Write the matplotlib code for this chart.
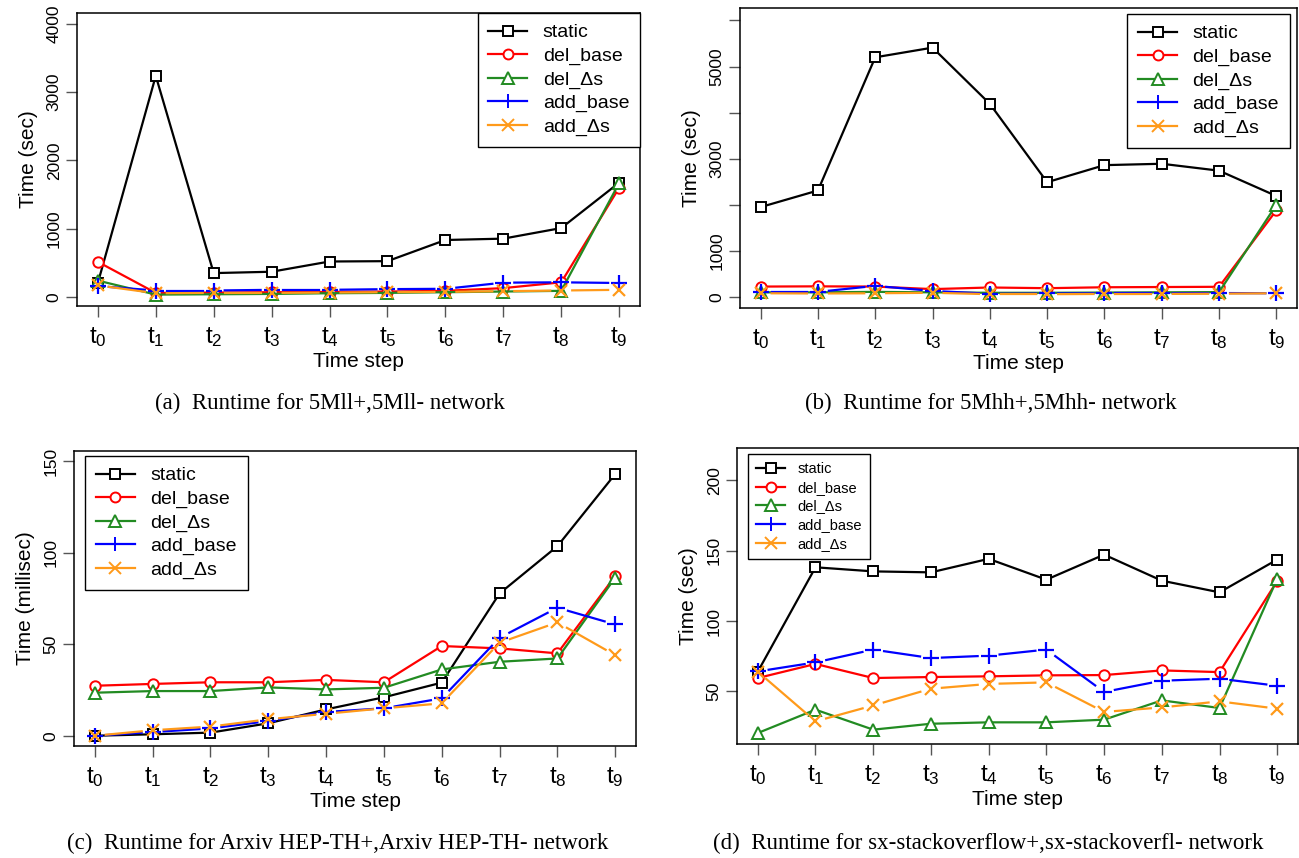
import numpy as np
import matplotlib
matplotlib.use("Agg")
import matplotlib.pyplot as plt
from matplotlib.lines import Line2D

plt.rcParams["font.family"] = ["Liberation Sans", "DejaVu Sans"]
plt.rcParams["mathtext.fontset"] = "custom"
plt.rcParams["mathtext.rm"] = "Liberation Sans"

steps = list(range(10))
step_labels = [r"$\mathregular{t_%d}$" % i for i in steps]
series_names = ["static", "del_base", "del_\u0394s", "add_base", "add_\u0394s"]

# (a) 5Mll+,5Mll- network, seconds
static_a   = [205, 3240, 350, 370, 520, 525, 835, 855, 1010, 1675]
del_base_a = [515, 60, 65, 70, 75, 80, 90, 130, 215, 1600]
del_ds_a   = [240, 35, 40, 45, 55, 60, 70, 80, 90, 1670]
add_base_a = [160, 95, 95, 105, 105, 115, 120, 210, 215, 205]
add_ds_a   = [170, 55, 60, 60, 65, 70, 75, 85, 95, 105]

# (b) 5Mhh+,5Mhh- network, seconds
static_b   = [1950, 2310, 5200, 5410, 4190, 2490, 2860, 2890, 2740, 2190]
del_base_b = [225, 230, 225, 170, 205, 190, 210, 215, 220, 1880]
del_ds_b   = [100, 100, 110, 100, 90, 90, 95, 100, 105, 2000]
add_base_b = [110, 110, 240, 130, 70, 75, 80, 80, 85, 80]
add_ds_b   = [80, 75, 80, 90, 60, 60, 65, 65, 70, 80]

# (c) Arxiv HEP-TH network, milliseconds
static_c   = [0, 0.8, 1.7, 6.8, 14.4, 21, 29, 77.7, 103.5, 142.9]
del_base_c = [27.3, 28.3, 29.2, 29.2, 30.5, 29.2, 49, 47.7, 45, 87.2]
del_ds_c   = [23.5, 24.4, 24.4, 26.4, 25.3, 26.2, 36.2, 40.4, 42.2, 86.3]
add_base_c = [0, 2, 4, 8, 13, 15, 20.4, 53.5, 69.9, 60.8]
add_ds_c   = [0, 3, 5, 9, 12, 15, 17.7, 50.8, 61.9, 44]

# (d) sx-stackoverflow network, seconds
static_d   = [64, 138.2, 135.3, 134.6, 144.2, 129.4, 147.2, 128.7, 120.4, 143.7]
del_base_d = [59.5, 69.5, 59.5, 60.2, 60.7, 61.4, 61.6, 64.9, 63.7, 128.5]
del_ds_d   = [20.4, 37, 22.8, 27, 28, 28, 29.9, 43.6, 38.2, 130]
add_base_d = [64.2, 70.6, 79.7, 73.7, 75.4, 79.7, 49.6, 57.6, 59, 54]
add_ds_d   = [64, 28.7, 40, 51.9, 55.3, 56.4, 35.4, 38.6, 42.9, 37.7]

colors  = ["black", "#FF0000", "#228B22", "#0000FF", "#FF9A1A"]
markers = ["s", "o", "^", "+", "x"]
msizes  = [7.5, 7.5, 8.5, 11, 9]
gapped  = [False, False, False, True, True]   # drawn R "type b" style

W, H = 1299, 858
fig = plt.figure(figsize=(W / 100, H / 100), dpi=100)


def make_axes(left, right, top, bottom):
    return fig.add_axes([left / W, 1 - bottom / H, (right - left) / W, (bottom - top) / H])


def gapped_line(ax, x, y, gap, **kw):
    # segments stop short of each point, leaving a gap around the marker
    pts = ax.transData.transform(np.column_stack([x, y]))
    inv = ax.transData.inverted()
    for p0, p1 in zip(pts[:-1], pts[1:]):
        d = p1 - p0
        L = np.hypot(*d)
        if L <= 2 * gap:
            continue
        u = d / L
        seg = inv.transform(np.array([p0 + u * gap, p1 - u * gap]))
        ax.plot(seg[:, 0], seg[:, 1], **kw)


def draw_panel(ax, data, ylim, yticks, ytick_labels, ylabel, caption, cap_xy,
               leg_anchor, leg_loc, leg_size, leg_spacing):
    ax.set_xlim(-0.36, 9.36)
    ax.set_ylim(*ylim)
    for vals, c, m, ms, g in zip(data, colors, markers, msizes, gapped):
        if g:
            gapped_line(ax, steps, vals, 11, color=c, linewidth=1.6, zorder=2)
            ax.plot(steps, vals, linestyle="none", marker=m, markersize=ms,
                    markeredgecolor=c, markeredgewidth=1.6, zorder=3)
        else:
            ax.plot(steps, vals, color=c, linewidth=1.6, marker=m, markersize=ms,
                    markerfacecolor="white", markeredgecolor=c,
                    markeredgewidth=1.4, zorder=2)

    ax.set_xticks(steps)
    ax.set_xticklabels(step_labels, fontsize=17.5)
    ax.set_yticks(yticks)
    ax.set_yticklabels(ytick_labels, fontsize=12.5, rotation=90, va="center")
    ax.tick_params(axis="both", direction="out", length=8, width=1, color="#555555")
    ax.tick_params(axis="x", pad=6)
    ax.tick_params(axis="y", pad=3)
    for sp in ax.spines.values():
        sp.set_linewidth(1.1)
    ax.set_xlabel("Time step", fontsize=15, labelpad=2)
    ax.set_ylabel(ylabel, fontsize=15, labelpad=6)

    handles = [Line2D([], [], color=c, linewidth=1.6, marker=m, markersize=ms * 0.95,
                      markerfacecolor="white", markeredgecolor=c, markeredgewidth=1.4)
               for c, m, ms in zip(colors, markers, msizes)]
    leg = ax.legend(handles, series_names, loc=leg_loc, bbox_to_anchor=leg_anchor,
                    fontsize=leg_size, frameon=True, fancybox=False, borderaxespad=0,
                    labelspacing=leg_spacing, handlelength=2.0, handletextpad=0.8,
                    borderpad=0.55)
    leg.get_frame().set_edgecolor("black")
    leg.get_frame().set_linewidth(1.0)
    leg.get_frame().set_alpha(1)

    fig.text(cap_xy[0] / W, 1 - cap_xy[1] / H, caption, ha="center", va="center",
             fontsize=16.5, family=["Liberation Serif", "DejaVu Serif"])


ax_a = make_axes(77, 640, 13, 306)
ax_b = make_axes(740, 1297, 8, 308)
ax_c = make_axes(74, 636, 451, 746)
ax_d = make_axes(737, 1298, 448, 744)

draw_panel(ax_a, [static_a, del_base_a, del_ds_a, add_base_a, add_ds_a],
           (-132, 4161), [0, 1000, 2000, 3000, 4000],
           ["0", "1000", "2000", "3000", "4000"], "Time (sec)",
           "(a)  Runtime for 5Mll+,5Mll- network", (330, 403),
           (1.0, 1.0), "upper right", 14, 0.3)

draw_panel(ax_b, [static_b, del_base_b, del_ds_b, add_base_b, add_ds_b],
           (-240, 6270), [0, 1000, 2000, 3000, 4000, 5000, 6000],
           ["0", "1000", "", "3000", "", "5000", ""], "Time (sec)",
           "(b)  Runtime for 5Mhh+,5Mhh- network", (991, 403),
           (0.987, 0.98), "upper right", 14, 0.3)

draw_panel(ax_c, [static_c, del_base_c, del_ds_c, add_base_c, add_ds_c],
           (-5.6, 155.5), [0, 50, 100, 150],
           ["0", "50", "100", "150"], "Time (millisec)",
           "(c)  Runtime for Arxiv HEP-TH+,Arxiv HEP-TH- network", (338, 843),
           (0.02, 0.983), "upper left", 14, 0.3)

draw_panel(ax_d, [static_d, del_base_d, del_ds_d, add_base_d, add_ds_d],
           (12.6, 223), [50, 100, 150, 200],
           ["50", "100", "150", "200"], "Time (sec)",
           "(d)  Runtime for sx-stackoverflow+,sx-stackoverfl- network", (988, 843),
           (0.02, 0.98), "upper left", 10.5, 0.32)

fig.savefig("out.png", dpi=100)
